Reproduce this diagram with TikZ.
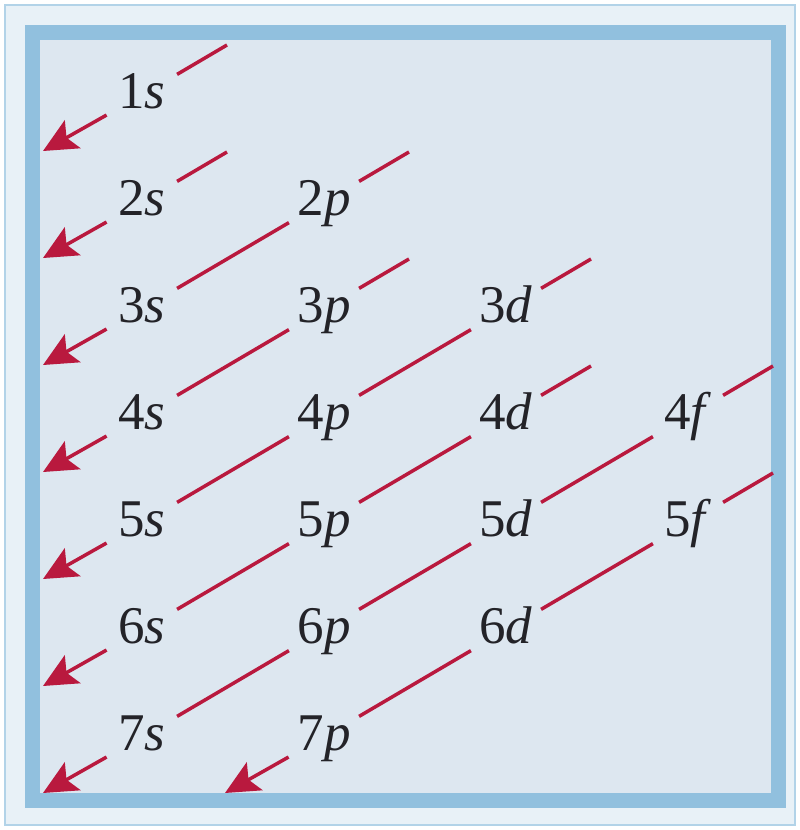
\documentclass[tikz,border=0pt]{standalone}
\usepackage{fontspec}
\setmainfont{Liberation Serif}
\usetikzlibrary{arrows.meta, calc}

\definecolor{fillrule}{RGB}{232,241,247}
\definecolor{frameblue}{RGB}{145,192,222}
\definecolor{paneblue}{RGB}{221,231,240}
\definecolor{linered}{RGB}{185,25,62}
\definecolor{inkgray}{RGB}{35,35,40}

\tikzset{
    orb/.style={circle, minimum size=81pt, inner sep=0pt, text height=26pt, text depth=0pt,
        text=inkgray, font=\fontsize{53}{60}\selectfont},
    rule/.style={linered, line width=3.5pt},
    fall/.style={rule, -{Stealth[length=34pt, width=32pt, inset=7pt]}}
}

\begin{document}
\begin{tikzpicture}[x=1pt, y=-1pt]
    \useasboundingbox (0,0) rectangle (800,830);
    % frame
    \draw[frameblue!70, line width=2pt, fill=fillrule] (5,5) rectangle (795,825);
    \draw[frameblue, line width=15pt, fill=paneblue] (32.5,32.5) rectangle (778,800);

    % orbitals: columns s p d f, rows 1 to 7
    \node[orb] (o1s) at (142,95)  {1\textit{s}};
    \node[orb] (o2s) at (142,202) {2\textit{s}};
    \node[orb] (o3s) at (142,309) {3\textit{s}};
    \node[orb] (o4s) at (142,416) {4\textit{s}};
    \node[orb] (o5s) at (142,523) {5\textit{s}};
    \node[orb] (o6s) at (142,630) {6\textit{s}};
    \node[orb] (o7s) at (142,737) {7\textit{s}};
    \node[orb] (o2p) at (324,202) {2\textit{p}};
    \node[orb] (o3p) at (324,309) {3\textit{p}};
    \node[orb] (o4p) at (324,416) {4\textit{p}};
    \node[orb] (o5p) at (324,523) {5\textit{p}};
    \node[orb] (o6p) at (324,630) {6\textit{p}};
    \node[orb] (o7p) at (324,737) {7\textit{p}};
    \node[orb] (o3d) at (506,309) {3\textit{d}};
    \node[orb] (o4d) at (506,416) {4\textit{d}};
    \node[orb] (o5d) at (506,523) {5\textit{d}};
    \node[orb] (o6d) at (506,630) {6\textit{d}};
    \node[orb] (o4f) at (688,416) {4\textit{f}};
    \node[orb] (o5f) at (688,523) {5\textit{f}};

    % free ends of the diagonals
    \foreach \o in {1s, 2s, 2p, 3p, 3d, 4d, 4f, 5f}
        \coordinate (top\o) at ($(o\o)+(85,-50)$);
    \foreach \o in {1s, 2s, 3s, 4s, 5s, 6s, 7s, 7p}
        \coordinate (tip\o) at ($(o\o)+(-99,56)$);

    % upper stubs
    \foreach \o in {1s, 2s, 2p, 3p, 3d, 4d, 4f, 5f}
        \draw[rule] (o\o) -- (top\o);
    % links between orbitals
    \draw[rule] (o2p) -- (o3s);
    \draw[rule] (o3p) -- (o4s);
    \draw[rule] (o3d) -- (o4p);
    \draw[rule] (o4p) -- (o5s);
    \draw[rule] (o4d) -- (o5p);
    \draw[rule] (o5p) -- (o6s);
    \draw[rule] (o4f) -- (o5d);
    \draw[rule] (o5d) -- (o6p);
    \draw[rule] (o6p) -- (o7s);
    \draw[rule] (o5f) -- (o6d);
    \draw[rule] (o6d) -- (o7p);
    % arrows to the frame
    \foreach \o in {1s, 2s, 3s, 4s, 5s, 6s, 7s, 7p}
        \draw[fall] (o\o) -- (tip\o);
\end{tikzpicture}
\end{document}
